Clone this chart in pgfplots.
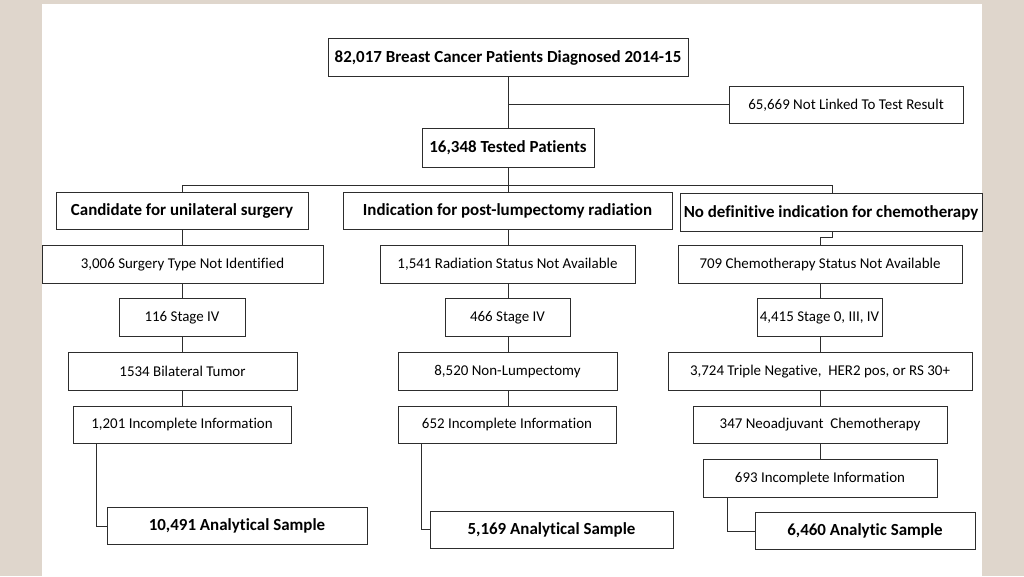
\documentclass[border=0pt]{standalone}
\usepackage{pgfplots}
\pgfplotsset{compat=1.18}
\usepackage{fontspec}
\setmainfont{Carlito}[RawFeature=-liga]
\definecolor{beige}{RGB}{223,214,204}
\definecolor{lc}{RGB}{45,45,45}
\newcommand{\hb}{\fontsize{17}{19}\selectfont\bfseries}
\newcommand{\rg}{\fontsize{15}{17}\selectfont}
\newcommand{\bx}[6]{%
  \addplot[draw=lc, line width=0.9bp, fill=white] coordinates {(#1,#2) (#3,#2) (#3,#4) (#1,#4)} --cycle;
  \node[font=#6, inner sep=0pt, anchor=center] at (axis cs:{(#1+#3)/2},{(#2+#4)/2+0.5}) {#5};}
\begin{document}
\begin{tikzpicture}
\begin{axis}[scale only axis, width=1024bp, height=576bp,
  xmin=0, xmax=1024, ymin=0, ymax=576, y dir=reverse,
  axis lines=none, clip=false]
% background
\addplot[draw=none, fill=beige] coordinates {(0,0) (1024,0) (1024,576) (0,576)} --cycle;
\addplot[draw=none, fill=white] coordinates {(42,4) (982,4) (982,576) (42,576)} --cycle;
% connectors
\addplot[lc, line width=0.9bp] coordinates {(508,76) (508,128)};
\addplot[lc, line width=0.9bp] coordinates {(508,104) (729,104)};
\addplot[lc, line width=0.9bp] coordinates {(508,167) (508,192)};
\addplot[lc, line width=0.9bp] coordinates {(182,192) (182,185) (832,185) (832,193)};
\addplot[lc, line width=0.9bp] coordinates {(182,229) (182,406)};
\addplot[lc, line width=0.9bp] coordinates {(508,229) (508,406)};
\addplot[lc, line width=0.9bp] coordinates {(832,231) (832,237) (820,237) (820,459)};
\addplot[lc, line width=0.9bp] coordinates {(96,443) (96,526) (107,526)};
\addplot[lc, line width=0.9bp] coordinates {(421,443) (421,529) (430,529)};
\addplot[lc, line width=0.9bp] coordinates {(727,497) (727,531) (755,531)};
% boxes
\bx{328}{38}{688}{76}{82,017 Breast Cancer Patients Diagnosed 2014-15}{\hb}
\bx{729}{86}{963}{123}{65,669 Not Linked To Test Result}{\rg}
\bx{422}{128}{594}{167}{16,348 Tested Patients}{\hb}
\bx{56}{192}{308}{229}{Candidate for unilateral surgery}{\hb}
\bx{343}{192}{672}{229}{Indication for post-lumpectomy radiation}{\hb}
\bx{680}{193}{982}{231}{No definitive indication for chemotherapy}{\hb}
\bx{42}{245}{323}{283}{3,006 Surgery Type Not Identified}{\rg}
\bx{380}{245}{635}{283}{1,541 Radiation Status Not Available}{\rg}
\bx{678}{245}{962}{283}{709 Chemotherapy Status Not Available}{\rg}
\bx{119}{298}{245}{336}{116 Stage IV}{\rg}
\bx{445}{298}{570}{336}{466 Stage IV}{\rg}
\bx{757}{298}{882}{336}{4,415 Stage 0, III, IV}{\rg}
\bx{68}{352}{297}{390}{1534 Bilateral Tumor}{\rg}
\bx{398}{352}{617}{390}{8,520 Non-Lumpectomy}{\rg}
\bx{668}{352}{972}{390}{3,724 Triple Negative,\ \ HER2 pos, or RS 30+}{\rg}
\bx{73}{406}{291}{443}{1,201 Incomplete Information}{\rg}
\bx{398}{406}{616}{443}{652 Incomplete Information}{\rg}
\bx{693}{406}{947}{443}{347 Neoadjuvant\ \ Chemotherapy}{\rg}
\bx{703}{459}{937}{497}{693 Incomplete Information}{\rg}
\bx{107}{507}{367}{544}{10,491 Analytical Sample}{\hb}
\bx{430}{511}{673}{548}{5,169 Analytical Sample}{\hb}
\bx{755}{512}{975}{549}{6,460 Analytic Sample}{\hb}
\end{axis}
\end{tikzpicture}
\end{document}
